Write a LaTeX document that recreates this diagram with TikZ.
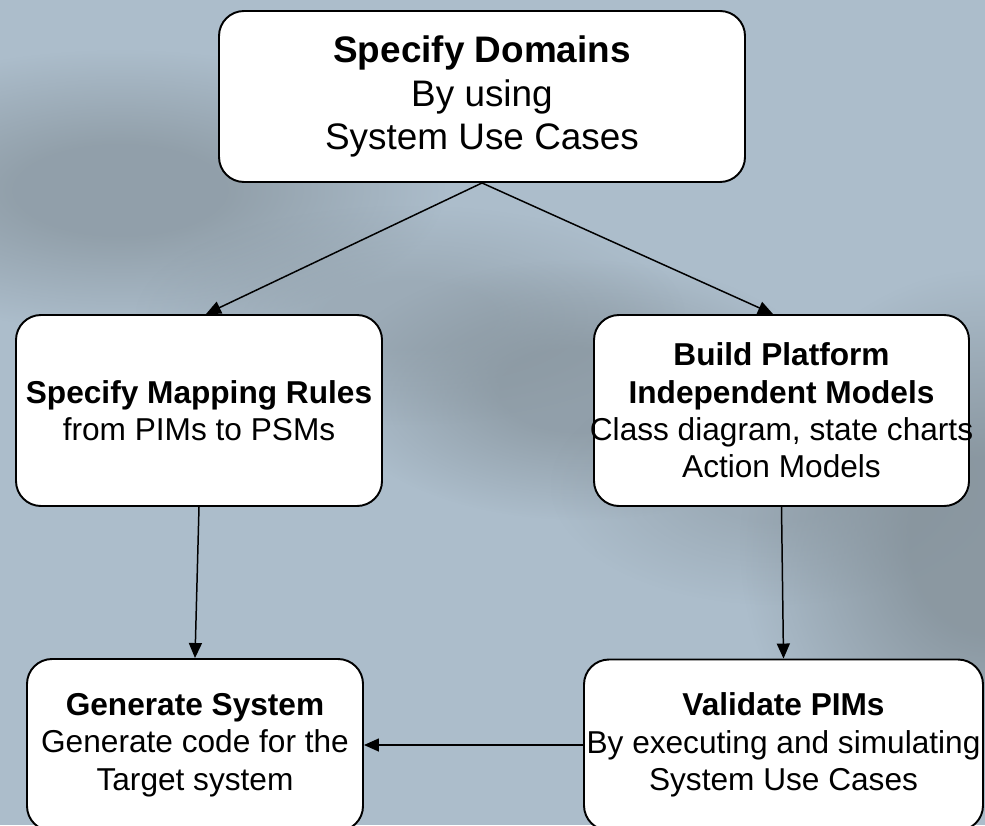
\documentclass[tikz,border=0pt]{standalone}
\usepackage{fontspec}
\setmainfont{Liberation Sans}
\usetikzlibrary{arrows.meta,fadings}
\definecolor{backblue}{RGB}{172,189,203}
\definecolor{backgray}{RGB}{128,140,148}
% soft blot: flat middle, fuzzy rim
\pgfdeclareradialshading{hazeshade}{\pgfpoint{0bp}{0bp}}{color(0bp)=(white); color(8bp)=(white); color(25bp)=(black); color(50bp)=(black)}
\pgfdeclarefading{haze}{\pgfuseshading{hazeshade}}

\begin{document}
\begin{tikzpicture}[>={Triangle[length=3mm,width=2.6mm]},line width=0.85pt]
 	\def \toprow{14.57cm}
 	\def \midrow{8.29cm}
 	\def \lowrow{1.6cm}

 	% backdrop
 	\useasboundingbox (0,0) rectangle (19.7,16.5);
 	\clip (0,0) rectangle (19.7,16.5);
 	\fill[backblue] (0,0) rectangle (19.7,16.5);
 	\fill[backgray, path fading=haze, opacity=.6] (2.4,12.7) ellipse (6.5cm and 2.8cm);
 	\fill[backgray, path fading=haze, opacity=.35] (8.2,10.2) ellipse (5.5cm and 2.2cm);
 	\fill[backgray, path fading=haze, opacity=.6] (11.6,8.7) ellipse (5cm and 2.6cm);
 	\fill[backgray, path fading=haze, opacity=.35] (15.5,6.8) ellipse (4.5cm and 2.4cm);
 	\fill[backgray, path fading=haze, opacity=.75] (19.8,5.6) ellipse (5cm and 5.5cm);

 	\tikzstyle{big-node}=[rectangle,rounded corners=5mm,draw=black,fill=white,line width=1.1pt,
 		inner sep=0pt,align=center,font=\fontsize{21}{25}\selectfont]
 	\tikzstyle{box-node}=[big-node,font=\fontsize{18}{21.3}\selectfont]

 	\node[big-node,minimum width=10.52cm,minimum height=3.42cm] (dom) at (9.64cm,\toprow)
 		{\textbf{Specify Domains}\\By using\\System Use Cases};

 	\node[box-node,minimum width=7.32cm,minimum height=3.82cm] (map) at (3.98cm,\midrow)
 		{\textbf{Specify Mapping Rules}\\from PIMs to PSMs};
 	\node[box-node,minimum width=7.5cm,minimum height=3.82cm] (pim) at (15.63cm,\midrow)
 		{\textbf{Build Platform}\\\textbf{Independent Models}\\\makebox[0pt]{Class diagram, state charts}\\Action Models};

 	\node[box-node,minimum width=6.72cm,minimum height=3.44cm] (gen) at (3.9cm,\lowrow)
 		{\textbf{Generate System}\\Generate code for the\\Target system};
 	\node[box-node,minimum width=7.98cm,minimum height=3.42cm] (val) at (15.67cm,\lowrow)
 		{\textbf{Validate PIMs}\\\makebox[0pt]{By executing and simulating}\\System Use Cases};

 	\path[->]
 		(dom.south)	edge	([xshift=1.4mm]map.north)
 		(dom.south)	edge	([xshift=-1.7mm]pim.north)
 		(map.south)	edge	(gen.north)
 		(pim.south)	edge	(val.north)
 		(val.west)	edge	(val.west -| gen.east);
\end{tikzpicture}
\end{document}
